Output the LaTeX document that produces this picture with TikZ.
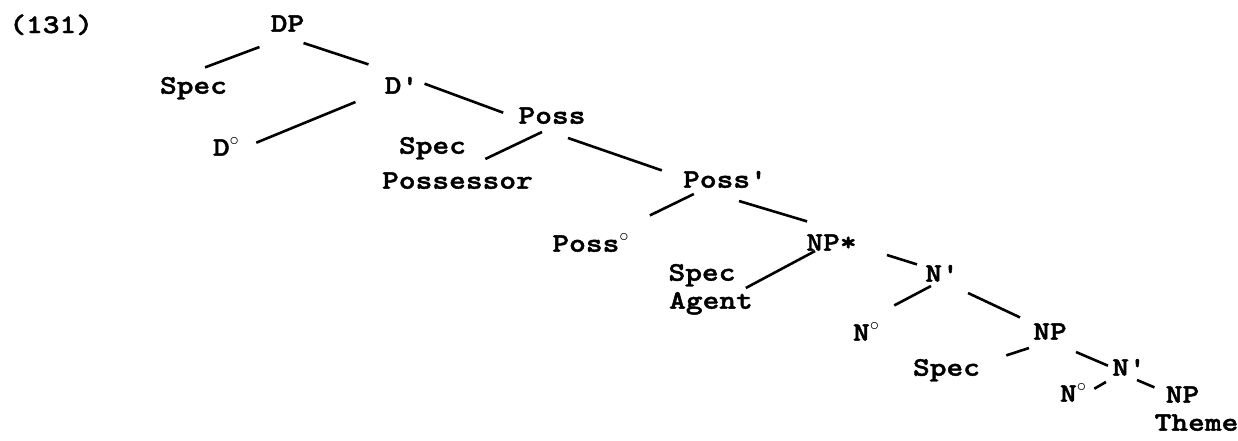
\documentclass[tikz,border=0pt]{standalone}
\usepackage{fontspec}
\newfontfamily\treefont[FakeStretch=1.19,FakeBold=1.6,Ligatures=TeXOff]{lmmonolt10-bold.otf}
\newcommand{\treesize}{\treefont\fontsize{13.4}{15}\selectfont}
\newcommand{\hd}{$^{\circ}$}
\tikzset{
every picture/.style={line width=1.3pt},
%%%%%%%%%% Node styles
cat/.style={inner sep=0pt, anchor=south, text height=8pt, text depth=0pt,
            font=\treesize},
%%%%%%%%%% branches
branch/.style={line cap=butt}
}

\begin{document}
\begin{tikzpicture}[x=0.5pt,y=-0.5pt]
\useasboundingbox[fill=white] (0,0) rectangle (1238,440);
%% example number
\node[cat, anchor=base west] (exnum) at (8,33) {(131)};
%% DP level
\node[cat] (dp) at (287.5,33) {DP};
\node[cat] (spec-d) at (193.5,95) {Spec};
\node[cat] (dbar) at (401.5,95) {D'};
\node[cat] (dhead) at (226.5,157) {D\hd};
%% Poss level
\node[cat] (poss) at (552,125) {Poss};
\node[cat] (spec-poss) at (432.5,155) {Spec};
\node[cat] (possessor) at (457.5,190) {Possessor};
\node[cat] (possbar) at (725,189) {Poss'};
\node[cat] (posshead) at (591,253) {Poss\hd};
%% NP* level
\node[cat] (npstar) at (831.5,252) {NP*};
\node[cat] (spec-np) at (702,282) {Spec};
\node[cat] (agent) at (711,310) {Agent};
\node[cat] (nbar) at (942,283) {N'};
\node[cat] (nhead) at (866.5,342) {N\hd};
%% lower NP
\node[cat] (np) at (1050,341) {NP};
\node[cat] (spec-low) at (946.5,377) {Spec};
\node[cat] (nbar-low) at (1129,377) {N'};
\node[cat] (nhead-low) at (1073.5,403) {N\hd};
\node[cat] (np-low) at (1182.5,404) {NP};
\node[cat] (theme) at (1196.5,432) {Theme};

%% branches
\begin{scope}[branch]
\draw ([shift={(-10,14)}]dp.south west) -- ([shift={(11.5,-9)}]spec-d.north);
\draw ([shift={(-2,10)}]dp.south east) -- ([shift={(-15,-12)}]dbar.north west);
\draw ([shift={(-28,7)}]dbar.south west) -- ([shift={(15,-5)}]dhead.east);
\draw ([shift={(5,-2)}]dbar.east) -- ([shift={(-14,-3)}]poss.west);
\draw ([shift={(-10,7)}]poss.south) -- ([shift={(18,4)}]spec-poss.south east);
\draw ([shift={(16,13)}]poss.south) -- ([shift={(-20,0)}]possbar.north west);
\draw ([shift={(12,5)}]possbar.south west) -- ([shift={(19,-19)}]posshead.north east);
\draw ([shift={(14,12)}]possbar.south) -- ([shift={(2,-12)}]npstar.north west);
\draw ([shift={(10,-1)}]npstar.south west) -- ([shift={(9,6)}]spec-np.south east);
\draw ([shift={(29,3)}]npstar.south east) -- ([shift={(-7,0)}]nbar.north west);
\draw ([shift={(-11,3)}]nbar.south) -- ([shift={(13,-18)}]nhead.north east);
\draw ([shift={(8,10)}]nbar.south east) -- ([shift={(-12,-5)}]np.north west);
\draw ([shift={(-3,7)}]np.south west) -- ([shift={(25,-3)}]spec-low.north east);
\draw ([shift={(8,11)}]np.south east) -- ([shift={(-3,-2)}]nbar-low.west);
\draw ([shift={(-5,5)}]nbar-low.south west) -- ([shift={(6,-5)}]nhead-low.east);
\draw ([shift={(8,3)}]nbar-low.south) -- ([shift={(-10,2)}]np-low.north west);
\end{scope}
\end{tikzpicture}
\end{document}
